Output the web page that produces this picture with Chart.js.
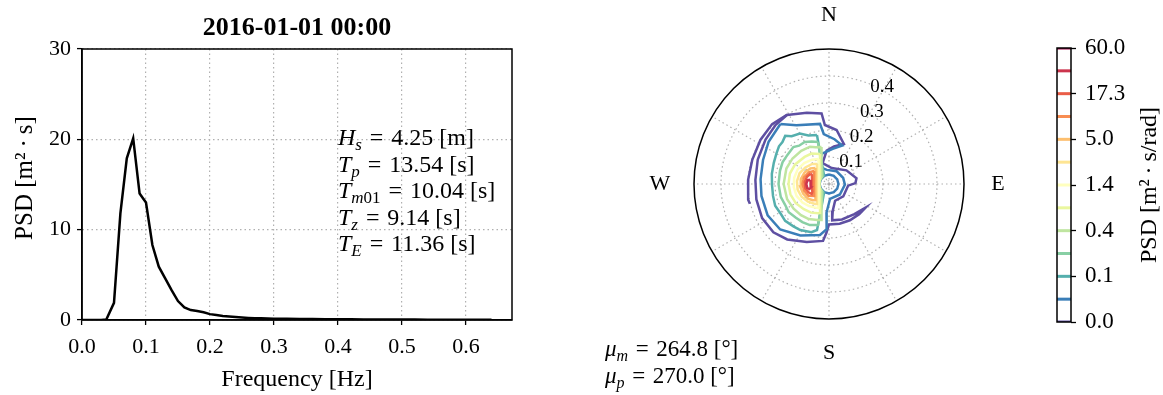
<!DOCTYPE html>
<html lang="en">
<head>
<meta charset="UTF-8">
<title>Wave spectrum 2016-01-01 00:00</title>
<script src="https://cdn.jsdelivr.net/npm/chart.js"></script>
<style>
  body { margin: 0; background: #fff; width: 1163px; height: 395px; overflow: hidden; position: relative; }
  canvas { position: absolute; top: 0; }
</style>
</head>
<body>
<canvas id="spec1d" width="560" height="395" style="left:0"></canvas>
<canvas id="spec2d" width="480" height="395" style="left:560px"></canvas>
<canvas id="cbar" width="123" height="395" style="left:1040px"></canvas>
<script>
const SERIF = '"Liberation Serif", "Times New Roman", serif';

// ---- 1D spectrum ----
const freqHz = [0.00, 0.01, 0.02, 0.03, 0.038, 0.05, 0.06, 0.07, 0.08, 0.09, 0.10, 0.11, 0.12, 0.13, 0.14,
  0.15, 0.16, 0.17, 0.18, 0.19, 0.20, 0.21, 0.22, 0.23, 0.24, 0.25, 0.26, 0.27, 0.28, 0.29, 0.30,
  0.32, 0.34, 0.36, 0.38, 0.40, 0.42, 0.44, 0.46, 0.48, 0.50, 0.52, 0.54, 0.56, 0.58, 0.60, 0.62, 0.64];
const psd1d = [0, 0, 0, 0, 0.05, 1.9, 11.8, 17.9, 20.1, 14.0, 13.0, 8.3, 5.9, 4.6, 3.3,
  2.1, 1.4, 1.1, 1.0, 0.85, 0.65, 0.55, 0.45, 0.38, 0.32, 0.27, 0.23, 0.2, 0.18, 0.16, 0.15,
  0.13, 0.12, 0.1, 0.09, 0.08, 0.07, 0.065, 0.06, 0.055, 0.05, 0.045, 0.04, 0.035, 0.03, 0.03, 0.025, 0.02];
const xTickVals = [0, 0.1, 0.2, 0.3, 0.4, 0.5, 0.6];
const yTickVals = [0, 10, 20, 30];
const statLines = [['H', 's', '4.25 [m]'], ['T', 'p', '13.54 [s]'], ['T', 'm01', '10.04 [s]'],
  ['T', 'z', '9.14 [s]'], ['T', 'E', '11.36 [s]']];
const dirLines = [['\u03bc', 'm', '264.8 [\u00b0]'], ['\u03bc', 'p', '270.0 [\u00b0]']];

// ---- directional spectrum contours: [direction deg (from N, clockwise), frequency Hz] ----
const lvl0 = [[328.6,.299],[342.7,.276],[354,.263],[356,.219],[8,.202],[20.4,.158],[7.6,.140],[356,.124],
  [343,.081],[9.5,.060],[52,.082],[78,.104],[88,.098],[95,.071],[131,.070],[160,.066],[172,.100],[175,.135],
  [160,.140],[140,.146],[123,.161],[135,.158],[150,.155],[165,.152],[180,.150],[183,.181],[186,.212],
  [201,.230],[217,.257],[229,.273],[243,.278],[258,.275],[273,.273],[289,.279],[305,.287],[318,.295],[328.6,.299]];
const lvl0arc = [[329,.300],[316.5,.306],[302.7,.302],[287.5,.298],[273,.300],[259,.305],[256,.302]];
const lvl1 = [[321,.286],[331,.249],[351.5,.225],[354,.186],[7,.167],[19,.151],[6,.131],[346,.115],[329,.076],
  [351,.053],[31,.055],[67,.057],[92,.059],[134,.056],[176,.055],[185,.107],[183,.168],[190,.192],[209,.218],
  [227,.247],[243,.255],[260,.254],[274,.254],[290,.260],[305,.273],[321,.286]];
const lvl1hole = [[0,.035],[30,.035],[60,.035],[90,.035],[120,.035],[150,.035],[180,.035],[210,.035],
  [240,.035],[270,.035],[300,.035],[330,.035],[360,.035]];
const lvl2 = [[346.2,.187],[340.7,.078],[330,.037],[300,.037],[270,.037],[240,.037],[210,.037],[199.3,.078],
  [194.6,.176],[200,.190],[212,.201],[220,.205],[230,.212],[238,.210],[248,.215],[258,.212],
  [269,.211],[280,.215],[291,.219],[300,.225],[307,.232],[312,.232],[317.7,.241],[322,.225],[330,.216],
  [337,.195],[346.2,.187]];
const lvl3 = [[345.3,.161],[338.7,.072],[323.1,.037],[300,.037],[270,.037],[240,.037],[216.9,.037],[201.3,.072],
  [195,.157],[200,.162],[205,.168],[215,.172],[225,.175],[235,.182],[245,.180],[255,.185],[270,.187],
  [285,.188],[295,.190],[305,.188],[316,.190],[322,.180],[330,.180],[338,.170],[345.3,.161]];
const lvl4 = [[348.5,.140],[337.4,.072],[311.4,.037],[290,.037],[270,.037],[250,.037],[228.6,.037],[202.6,.072],
  [191.8,.136],[198,.140],[210,.150],[222,.155],[235,.160],[250,.165],[270,.168],[290,.168],[305,.165],
  [320,.160],[333,.155],[340,.145],[348.5,.140]];
const lvl5 = [[343.3,.116],[329,.065],[296,.037],[270,.037],[244,.037],[211,.065],[197.2,.112],[200,.115],
  [212,.125],[225,.132],[240,.142],[255,.148],[270,.150],[285,.150],[300,.145],[318,.135],[330,.130],[343.3,.116]];
const lvl6 = [[337.2,.100],[318.8,.059],[270,.039],[221.2,.059],[203.6,.097],[208,.100],[222,.110],[235,.120],
  [250,.128],[265,.131],[280,.131],[295,.128],[310,.120],[325,.110],[337.2,.100]];
const lvl7 = [[329,.086],[309.8,.058],[270,.044],[230.2,.058],[211,.086],[215,.090],[230,.102],[245,.112],
  [260,.118],[275,.119],[290,.116],[305,.107],[320,.097],[329,.086]];
const lvl8 = [[319.8,.078],[270,.050],[220.2,.078],[225,.085],[235,.094],[250,.102],[265,.107],[280,.106],
  [295,.100],[310,.090],[319.8,.078]];
const lvl9 = [[311,.073],[270,.056],[231.3,.071],[240,.087],[255,.095],[270,.098],[285,.096],[300,.086],[311,.073]];
const lvl10 = [[300,.078],[288,.086],[275,.090],[260,.089],[248,.082],[240,.074],[245,.068],[258,.065],
  [270,.063],[285,.065],[297,.071],[300,.078]];
const lvl11 = [[283,.072],[280,.081],[270,.084],[260,.082],[256,.075],[259,.069],[270,.067],[280,.068],[283,.072]];

const levelColors = ['#5e4fa2', '#3a7eb8', '#55afad', '#88cfa4', '#bfe5a0', '#eaf79e', '#ffffbf',
  '#fee593', '#fdbf6f', '#f88d52', '#ea5d47', '#cc344d', '#9e0142'];
const cbTickLabels = ['0.0', '0.1', '0.4', '1.4', '5.0', '17.3', '60.0'];

const ringFreqs = [0.1, 0.2, 0.3, 0.4];
const innerRing = 0.012;
const rMax = 0.5;
const spokeDirs = [0, 30, 60, 90, 120, 150, 180, 210, 240, 270, 300, 330];
const compass = [['N', 0], ['E', 90], ['S', 180], ['W', 270]];

// ---- helpers ----
// italic symbol + subscript, then " = value" with math-style spacing round "="
function mathLine(ctx, x, y, sym, sub, rest, size) {
  ctx.textAlign = 'left';
  ctx.textBaseline = 'alphabetic';
  ctx.fillStyle = '#000';
  ctx.font = `italic ${size}px ${SERIF}`;
  ctx.fillText(sym, x, y);
  x += ctx.measureText(sym).width;
  const ss = Math.round(size * 0.7);
  for (const ch of sub) {
    ctx.font = (/[0-9]/.test(ch) ? '' : 'italic ') + `${ss}px ${SERIF}`;
    ctx.fillText(ch, x, y + size * 0.22);
    x += ctx.measureText(ch).width;
  }
  ctx.font = `${size}px ${SERIF}`;
  const gap = size * 0.33;
  x += gap;
  ctx.fillText('=', x, y);
  x += ctx.measureText('=').width + gap;
  ctx.fillText(rest, x, y);
}

function toXY(p) {
  const a = p[0] * Math.PI / 180;
  return { x: p[1] * Math.sin(a), y: p[1] * Math.cos(a) };
}

// ---- left: 1D spectrum ----
const spec1dDecor = {
  id: 'spec1dDecor',
  afterDraw(chart) {
    const { ctx, chartArea: a } = chart;
    ctx.save();
    ctx.strokeStyle = '#000';
    ctx.lineWidth = 1.5;
    ctx.strokeRect(a.left, a.top, a.right - a.left, a.bottom - a.top);
    ctx.fillStyle = '#000';
    ctx.textAlign = 'center';
    ctx.textBaseline = 'middle';
    ctx.font = `bold 26px ${SERIF}`;
    ctx.fillText('2016-01-01 00:00', (a.left + a.right) / 2, 28);
    ctx.font = `24px ${SERIF}`;
    ctx.fillText('Frequency [Hz]', (a.left + a.right) / 2, 380);
    ctx.save();
    ctx.translate(25, 178);
    ctx.rotate(-Math.PI / 2);
    ctx.font = `25px ${SERIF}`;
    ctx.fillText('PSD [m\u00b2\u2009\u00b7\u2009s]', 0, 0);
    ctx.restore();
    statLines.forEach((s, i) => mathLine(ctx, 338, 145 + i * 26.5, s[0], s[1], s[2], 24));
    ctx.restore();
  }
};

const axisFont = { family: SERIF, size: 22 };
new Chart(document.getElementById('spec1d'), {
  type: 'scatter',
  data: {
    datasets: [{
      data: freqHz.map((f, i) => ({ x: f, y: psd1d[i] })),
      showLine: true,
      borderColor: '#000',
      borderWidth: 2.5,
      pointRadius: 0,
      tension: 0
    }]
  },
  options: {
    responsive: false,
    animation: false,
    layout: { padding: { top: 49, right: 48, left: 0, bottom: 0 } },
    plugins: { legend: { display: false }, tooltip: { enabled: false } },
    scales: {
      x: {
        type: 'linear', min: 0, max: 0.672,
        afterBuildTicks: s => { s.ticks = xTickVals.map(v => ({ value: v })); },
        afterFit: s => { s.height = 75; },
        ticks: { color: '#000', font: axisFont, padding: 9, callback: v => v.toFixed(1), maxRotation: 0 },
        grid: { color: '#b0b0b0', lineWidth: 1.2, tickColor: '#000', tickLength: 5, tickWidth: 1.3 },
        border: { display: true, color: '#000', width: 1.5, dash: [1.5, 3] }
      },
      y: {
        type: 'linear', min: 0, max: 30,
        afterBuildTicks: s => { s.ticks = yTickVals.map(v => ({ value: v })); },
        afterFit: s => { s.width = 82; },
        ticks: { color: '#000', font: axisFont, padding: 6 },
        grid: { color: '#b0b0b0', lineWidth: 1.2, tickColor: '#000', tickLength: 5, tickWidth: 1.3 },
        border: { display: true, color: '#000', width: 1.5, dash: [1.5, 3] }
      }
    }
  },
  plugins: [spec1dDecor]
});

// ---- middle: directional spectrum on a polar grid ----
const contourSets = [
  [0, lvl0], [0, lvl0arc], [1, lvl1], [1, lvl1hole], [2, lvl2], [3, lvl3], [4, lvl4], [5, lvl5],
  [6, lvl6], [7, lvl7], [8, lvl8], [9, lvl9], [10, lvl10], [11, lvl11]
];

const polarDecor = {
  id: 'polarDecor',
  beforeDatasetsDraw(chart) {
    const { ctx, scales: { x, y } } = chart;
    const cx = x.getPixelForValue(0), cy = y.getPixelForValue(0);
    const k = x.getPixelForValue(1) - cx;
    ctx.save();
    ctx.strokeStyle = '#b0b0b0';
    ctx.lineWidth = 1.2;
    ctx.setLineDash([1.5, 3]);
    [innerRing, ...ringFreqs].forEach(r => {
      ctx.beginPath();
      ctx.arc(cx, cy, r * k, 0, 2 * Math.PI);
      ctx.stroke();
    });
    spokeDirs.forEach(d => {
      const a = d * Math.PI / 180;
      ctx.beginPath();
      ctx.moveTo(cx, cy);
      ctx.lineTo(cx + rMax * k * Math.sin(a), cy - rMax * k * Math.cos(a));
      ctx.stroke();
    });
    ctx.restore();
  },
  afterDatasetsDraw(chart) {
    const { ctx, scales: { x, y } } = chart;
    const cx = x.getPixelForValue(0), cy = y.getPixelForValue(0);
    const k = x.getPixelForValue(1) - cx;
    ctx.save();
    ctx.strokeStyle = '#000';
    ctx.lineWidth = 1.5;
    ctx.beginPath();
    ctx.arc(cx, cy, rMax * k, 0, 2 * Math.PI);
    ctx.stroke();
    ctx.fillStyle = '#000';
    ctx.font = `19px ${SERIF}`;
    ctx.textAlign = 'left';
    ctx.textBaseline = 'middle';
    const la = 22.5 * Math.PI / 180;
    ringFreqs.forEach(r => {
      ctx.fillText(r.toFixed(1), cx + r * k * Math.sin(la), cy - r * k * Math.cos(la) + 3);
    });
    ctx.font = `22px ${SERIF}`;
    ctx.textAlign = 'center';
    compass.forEach(([t, d]) => {
      const a = d * Math.PI / 180, rr = rMax * k + 34;
      ctx.fillText(t, cx + rr * Math.sin(a), cy - rr * Math.cos(a));
    });
    dirLines.forEach((s, i) => mathLine(ctx, 45, 356 + i * 27, s[0], s[1], s[2], 23));
    ctx.restore();
  }
};

new Chart(document.getElementById('spec2d'), {
  type: 'scatter',
  data: {
    datasets: contourSets.map(([lv, pts]) => ({
      data: pts.map(toXY),
      showLine: true,
      borderColor: levelColors[lv],
      borderWidth: 2.5,
      pointRadius: 0,
      tension: 0,
      order: -lv
    }))
  },
  options: {
    responsive: false,
    animation: false,
    layout: { padding: { left: 134, right: 76, top: 49, bottom: 76 } },
    plugins: { legend: { display: false }, tooltip: { enabled: false } },
    scales: {
      x: { type: 'linear', min: -rMax, max: rMax, display: false },
      y: { type: 'linear', min: -rMax, max: rMax, display: false }
    }
  },
  plugins: [polarDecor]
});

// ---- right: colour bar of contour levels ----
const cbarDecor = {
  id: 'cbarDecor',
  afterDraw(chart) {
    const { ctx, chartArea: a } = chart;
    ctx.save();
    ctx.strokeStyle = '#000';
    ctx.lineWidth = 1.5;
    ctx.strokeRect(a.left, a.top, a.right - a.left, a.bottom - a.top);
    ctx.fillStyle = '#000';
    ctx.font = `24px ${SERIF}`;
    ctx.textAlign = 'center';
    ctx.textBaseline = 'middle';
    ctx.translate(110, (a.top + a.bottom) / 2);
    ctx.rotate(-Math.PI / 2);
    ctx.fillText('PSD [m\u00b2\u2009\u00b7\u2009s/rad]', 0, 0);
    ctx.restore();
  }
};

new Chart(document.getElementById('cbar'), {
  type: 'scatter',
  data: {
    datasets: levelColors.map((c, i) => ({
      data: [{ x: 0, y: i }, { x: 1, y: i }],
      showLine: true,
      borderColor: c,
      borderWidth: 3,
      pointRadius: 0
    }))
  },
  options: {
    responsive: false,
    animation: false,
    layout: { padding: { left: 17, right: 0, top: 48, bottom: 73 } },
    plugins: { legend: { display: false }, tooltip: { enabled: false } },
    scales: {
      x: { type: 'linear', min: 0, max: 1, display: false },
      y: {
        type: 'linear', position: 'right', min: 0, max: levelColors.length - 1,
        afterBuildTicks: s => { s.ticks = cbTickLabels.map((t, i) => ({ value: i * 2 })); },
        afterFit: s => { s.width = 92; },
        ticks: { color: '#000', font: { family: SERIF, size: 23 }, padding: 9, callback: v => cbTickLabels[v / 2] },
        grid: { drawOnChartArea: false, tickColor: '#000', tickLength: 5, tickWidth: 1.3 },
        border: { display: false }
      }
    }
  },
  plugins: [cbarDecor]
});
</script>
</body>
</html>
